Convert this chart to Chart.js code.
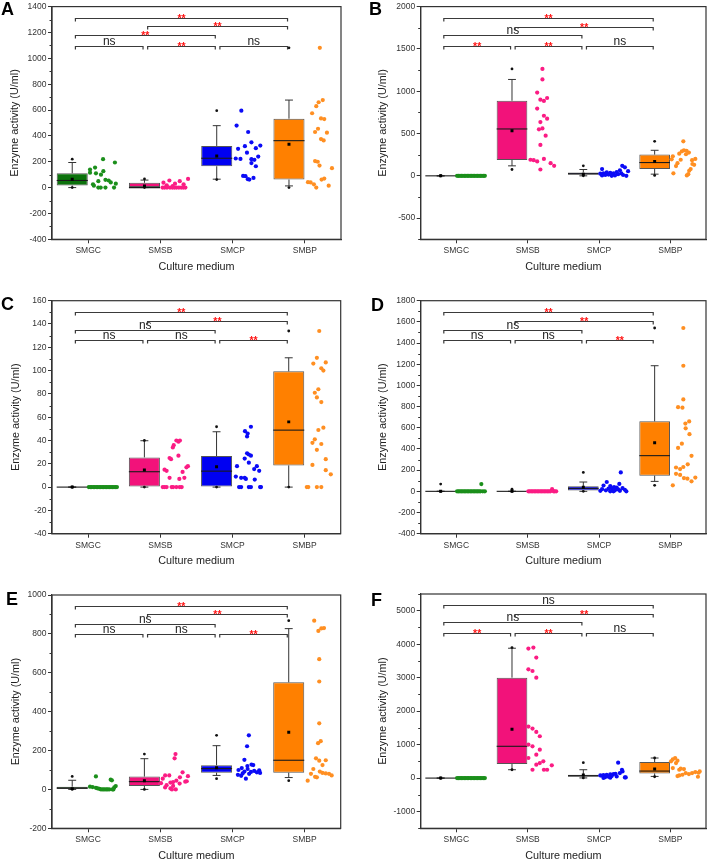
<!DOCTYPE html>
<html>
<head>
<meta charset="utf-8">
<script src="https://cdn.jsdelivr.net/npm/chart.js@4.4.1/dist/chart.umd.min.js"></script>
<style>
  html, body { margin: 0; padding: 0; background: #fff; }
  #page { position: relative; width: 710px; height: 861px; overflow: hidden; }
  canvas { position: absolute; }
  .letter { position: absolute; font: bold 18px 'Liberation Sans', Arial, sans-serif; line-height: 18px; color: #000; }
</style>
</head>
<body>
<div id="page"></div>
<script>
// ---- data ----
const categories = ['SMGC', 'SMSB', 'SMCP', 'SMBP'];

// A
const aRange = [-400, 1400];
const aTicks = [-400, -200, 0, 200, 400, 600, 800, 1000, 1200, 1400];
const aQ1 = [16, 0, 165, 62];
const aMed = [55, 0, 227, 363];
const aQ3 = [111, 37, 322, 533];
const aLo = [0, 0, 65, 13];
const aHi = [194, 58, 479, 677];
const aMean = [65, 12, 245, 335];
const aPts = [
  [220, 194, 155, 140, 127, 115, 110, 100, 60, 55, 50, 40, 30, 25, 15, 0, 0, 0, 0],
  [67, 55, 50, 38, 30, 25, 18, 12, 0, 0, 0, 0, 0, 0, 0, 0, 0, 0, 0],
  [595, 480, 430, 350, 325, 320, 305, 300, 270, 240, 225, 222, 220, 215, 190, 165, 90, 88, 75, 65, 62],
  [1081, 677, 660, 630, 575, 535, 530, 455, 430, 425, 375, 365, 205, 200, 170, 150, 70, 62, 42, 40, 25, 15, 0]
];
const aJit = [
  [.48, .88, .21, .04, .49, .04, .24, .41, .56, .67, .32, .74, .91, .14, .17, .32, .4, .56, .85],
  [.91, .28, .63, .08, .47, .76, .19, .39, .05, .12, .2, .3, .38, .45, .52, .6, .68, .75, .82],
  [.27, .11, .5, .61, .91, .39, .76, .16, .46, .84, .08, .24, .61, .71, .61, .76, .33, .41, .68, .49, .54],
  [.48, .58, .44, .36, .22, .52, .63, .42, .32, .72, .52, .61, .32, .41, .47, .89, .63, .54, .08, .17, .28, .78, .36]
];
const aBrackets = [[0, 1, 1094, 'ns'], [1, 2, 1094, '**'], [2, 3, 1094, 'ns'], [0, 2, 1179, '**'], [1, 3, 1253, '**'], [0, 3, 1312, '**']];

// B
const bRange = [-750, 2000];
const bTicks = [-500, 0, 500, 1000, 1500, 2000];
const bQ1 = [0, 188, 12, 82];
const bMed = [0, 554, 25, 157];
const bQ3 = [0, 887, 39, 251];
const bLo = [0, 118, 0, 20];
const bHi = [0, 1139, 75, 302];
const bMean = [0, 534, 20, 169];
const bPts = [
  [0, 0, 0, 0, 0, 0, 0, 0, 0, 0, 0, 0, 0, 0, 0, 0, 0, 0, 0, 0],
  [1264, 1139, 984, 920, 900, 885, 795, 710, 675, 635, 560, 550, 475, 365, 200, 190, 185, 170, 150, 118, 75],
  [118, 100, 80, 65, 55, 45, 40, 35, 30, 30, 28, 25, 20, 15, 10, 10, 5, 5, 0, 0],
  [408, 302, 295, 290, 275, 262, 255, 230, 200, 195, 190, 185, 150, 140, 130, 115, 80, 60, 30, 20, 5]
];
const bJit = [
  [0, .05, .1, .15, .2, .25, .3, .35, .4, .45, .5, .55, .6, .65, .7, .75, .8, .85, .9, .95],
  [.48, .48, .3, .64, .41, .53, .3, .53, .64, .41, .48, .36, .59, .41, .53, .07, .18, .3, .76, .88, .41],
  [.77, .86, .08, .69, .97, .58, .24, .36, .13, .47, .74, .02, .63, .3, .19, .8, .52, .08, .41, .91],
  [.42, .44, .53, .37, .61, .28, .51, .06, .83, .02, .33, .72, .22, .73, .79, .17, .67, .62, .08, .59, .54]
];
const bBrackets = [[0, 1, 1531, '**'], [1, 2, 1531, '**'], [2, 3, 1531, 'ns'], [0, 2, 1661, 'ns'], [1, 3, 1760, '**'], [0, 3, 1865, '**']];

// C
const cRange = [-40, 160];
const cTicks = [-40, -20, 0, 20, 40, 60, 80, 100, 120, 140, 160];
const cQ1 = [0, 0, 0, 18.6];
const cMed = [0, 13.2, 13.7, 48.9];
const cQ3 = [0, 25.5, 26.6, 99.4];
const cLo = [0, 0, 0, 0];
const cHi = [0, 39.8, 47.5, 111];
const cMean = [0, 14.6, 17.5, 56];
const cPts = [
  [0, 0, 0, 0, 0, 0, 0, 0, 0, 0, 0, 0, 0, 0, 0, 0, 0, 0, 0, 0],
  [40, 40, 39, 36, 34, 27, 25, 24, 18, 17, 15, 14, 13, 8, 8, 7, 0, 0, 0, 0, 0, 0, 0, 0],
  [51.8, 48, 46, 43.5, 29, 28, 27, 24.5, 21, 18, 18, 15.5, 14, 9, 8, 8, 7, 6.5, 0, 0, 0, 0, 0, 0],
  [134, 111, 106, 107, 102, 100, 84, 81, 77, 73, 51, 49, 41, 38, 37, 32, 24, 19, 14.5, 11, 0, 0, 0, 0]
];
const cJit = [
  [0, .05, .1, .15, .2, .25, .3, .35, .4, .45, .5, .55, .6, .65, .7, .75, .8, .85, .9, .95],
  [.52, .64, .59, .43, .4, .59, .29, .34, .91, .86, .12, .19, .73, .79, .29, .62, .06, .12, .19, .36, .41, .52, .63, .7],
  [.6, .4, .49, .47, .47, .53, .6, .39, .53, .13, .8, .71, .88, .09, .27, .39, .43, .73, .2, .27, .53, .6, .91, .94],
  [.47, .39, .27, .69, .54, .61, .44, .32, .39, .54, .61, .44, .32, .24, .54, .39, .69, .24, .69, .86, .05, .1, .39, .54]
];
const cBrackets = [[0, 1, 126.2, 'ns'], [1, 2, 126.2, 'ns'], [2, 3, 126.2, '**'], [0, 2, 134.8, 'ns'], [1, 3, 142.8, '**'], [0, 3, 150.5, '**']];

// D
const dRange = [-400, 1800];
const dTicks = [-400, -200, 0, 200, 400, 600, 800, 1000, 1200, 1400, 1600, 1800];
const dQ1 = [0, 0, 9, 148];
const dMed = [0, 0, 28, 337];
const dQ3 = [0, 0, 47, 661];
const dLo = [0, 0, 0, 94];
const dHi = [0, 0, 88, 1186];
const dMean = [0, 0, 38, 459];
const dPts = [
  [69, 0, 0, 0, 0, 0, 0, 0, 0, 0, 0, 0, 0, 0, 0, 0, 0, 0, 0, 0],
  [20, 0, 0, 0, 0, 0, 0, 0, 0, 0, 0, 0, 0, 0, 0, 0, 0, 0, 0, 0],
  [179, 88, 70, 55, 50, 40, 35, 30, 28, 25, 20, 18, 15, 10, 10, 5, 5, 0, 0, 0],
  [1542, 1186, 868, 795, 790, 660, 640, 595, 540, 450, 410, 335, 255, 230, 225, 210, 165, 155, 130, 125, 120, 95, 57]
];
const dJit = [
  [.83, 0, .05, .1, .15, .2, .25, .3, .35, .4, .45, .5, .55, .6, .65, .7, .75, .8, .88, .95],
  [.81, 0, .05, .1, .15, .2, .25, .3, .35, .4, .45, .5, .55, .6, .65, .7, .75, .86, .9, .95],
  [.72, .24, .67, .13, .36, .49, .58, .78, .41, .3, .08, .63, .86, .21, .52, .02, .69, .91, .36, .47],
  [.42, .42, .42, .24, .39, .62, .49, .5, .63, .37, .24, .7, .57, .42, .17, .31, .17, .31, .83, .44, .56, .7, .06]
];
const dBrackets = [[0, 1, 1429, 'ns'], [1, 2, 1429, 'ns'], [2, 3, 1429, '**'], [0, 2, 1526, 'ns'], [1, 3, 1611, '**'], [0, 3, 1696, '**']];

// E
const eRange = [-200, 1000];
const eTicks = [-200, 0, 200, 400, 600, 800, 1000];
const eQ1 = [0, 18, 86, 86];
const eMed = [7, 40, 107, 150];
const eQ3 = [14, 66, 124, 551];
const eLo = [0, 0, 72, 61];
const eHi = [47, 158, 225, 827];
const eMean = [4, 45, 112, 294];
const ePts = [
  [67, 50, 47, 17, 14, 12, 10, 8, 5, 3, 0, 0, 0, 0, 0, 0, 0, 0],
  [182, 160, 88, 72, 72, 68, 62, 55, 45, 42, 40, 38, 35, 32, 30, 22, 18, 10, 5, 0, 0],
  [278, 222, 152, 128, 125, 120, 110, 105, 100, 98, 95, 92, 90, 88, 85, 82, 80, 75, 70, 55],
  [868, 830, 828, 815, 670, 555, 340, 248, 238, 160, 150, 148, 125, 105, 92, 85, 82, 80, 80, 72, 65, 62, 45]
];
const eJit = [
  [.24, .74, .78, .91, .04, .13, .86, .24, .3, .36, .41, .47, .52, .58, .63, .69, .8, .83],
  [.49, .46, .73, .14, .28, .91, .64, .06, .52, .87, .82, .41, .32, 0, .63, .19, .41, .14, .32, .37, .5],
  [.53, .47, .38, .62, .68, .48, .29, .49, .18, .88, .71, .38, .6, .8, .91, .32, .54, .16, .27, .43],
  [.3, .63, .54, .44, .47, .47, .47, .52, .43, .36, .69, .47, .58, .27, .49, .58, .69, .8, .19, .89, .33, .39, .08]
];
const eBrackets = [[0, 1, 797, 'ns'], [1, 2, 797, 'ns'], [2, 3, 797, '**'], [0, 2, 851, 'ns'], [1, 3, 900, '**'], [0, 3, 945, '**']];

// F
const fRange = [-1500, 5500];
const fTicks = [-1000, 0, 1000, 2000, 3000, 4000, 5000];
const fQ1 = [0, 420, 40, 140];
const fMed = [0, 950, 70, 210];
const fQ3 = [0, 3000, 100, 480];
const fLo = [0, 250, 5, 50];
const fHi = [0, 3880, 250, 600];
const fMean = [0, 1460, 95, 270];
const fPts = [
  [0, 0, 0, 0, 0, 0, 0, 0, 0, 0, 0, 0, 0, 0, 0, 0, 0, 0, 0, 0],
  [3900, 3870, 3600, 3250, 3200, 3000, 1540, 1480, 1380, 1250, 1000, 950, 850, 700, 600, 500, 450, 400, 380, 250, 250, 250],
  [460, 250, 200, 150, 130, 120, 110, 100, 90, 80, 70, 60, 50, 40, 30, 20, 20, 10, 5],
  [600, 560, 520, 500, 450, 300, 280, 270, 250, 200, 180, 160, 150, 150, 120, 100, 80, 60, 40]
];
const fJit = [
  [0, .05, .1, .15, .2, .25, .3, .35, .4, .45, .5, .55, .6, .65, .7, .75, .8, .85, .9, .95],
  [.17, 0, .27, 0, .14, .27, 0, .14, .27, .39, 0, .14, .39, .27, 0, .51, .39, .27, .8, .14, .53, .64],
  [.63, .76, .78, .69, .54, .47, .36, .24, .13, .02, .08, .41, .58, .3, .19, .86, .89, .36, .13],
  [.14, .06, .22, 0, .17, .06, .33, .44, .28, .98, .83, .94, .72, .5, .61, .39, .28, .22, .92]
];
const fBrackets = [[0, 1, 4330, '**'], [1, 2, 4330, '**'], [2, 3, 4330, 'ns'], [0, 2, 4650, 'ns'], [1, 3, 4900, '**'], [0, 3, 5170, 'ns']];

// ---- styles / layout ----
const FONT = "'Liberation Sans', Arial, sans-serif";
const boxColors = ['#0c720c', '#f2127a', '#0000f2', '#ff8000'];
const dotColors = ['#1b8f1b', '#fb1c84', '#0b0bf6', '#ff8f22'];
const AXIS = '#333';

const BOX_OFF = -0.22;   // box centre relative to category
const BOX_HALF = 0.215;
const CAP_HALF = 0.055;
const PT_START = 0.01, PT_SPAN = 0.41;
const BR_L = -0.176, BR_R = -0.24;

const panels = [
  {name: 'A', range: aRange, ticks: aTicks, q1: aQ1, med: aMed, q3: aQ3, lo: aLo, hi: aHi, mean: aMean, pts: aPts, jit: aJit, brackets: aBrackets,
   box: {left: 0, top: 0, w: 355, h: 285, padL: 9.6, padT: 6, padR: 14, padB: 12.9, yW: 42.4, xH: 32.8}, letter: [1, -0.5]},
  {name: 'B', range: bRange, ticks: bTicks, q1: bQ1, med: bMed, q3: bQ3, lo: bLo, hi: bHi, mean: bMean, pts: bPts, jit: bJit, brackets: bBrackets,
   box: {left: 355, top: 0, w: 355, h: 285, padL: 22.6, padT: 6, padR: 1.2, padB: 12.9, yW: 43.1, xH: 32.8}, letter: [369, 0.3]},
  {name: 'C', range: cRange, ticks: cTicks, q1: cQ1, med: cMed, q3: cQ3, lo: cLo, hi: cHi, mean: cMean, pts: cPts, jit: cJit, brackets: cBrackets,
   box: {left: 0, top: 285, w: 355, h: 285, padL: 10.6, padT: 15.7, padR: 14.3, padB: 3.6, yW: 41.4, xH: 32.7}, letter: [1, 294.6]},
  {name: 'D', range: dRange, ticks: dTicks, q1: dQ1, med: dMed, q3: dQ3, lo: dLo, hi: dHi, mean: dMean, pts: dPts, jit: dJit, brackets: dBrackets,
   box: {left: 355, top: 285, w: 355, h: 285, padL: 22.6, padT: 15.7, padR: 1.2, padB: 3.6, yW: 43.1, xH: 32.7}, letter: [371, 295.5]},
  {name: 'E', range: eRange, ticks: eTicks, q1: eQ1, med: eMed, q3: eQ3, lo: eLo, hi: eHi, mean: eMean, pts: ePts, jit: eJit, brackets: eBrackets,
   box: {left: 0, top: 570, w: 355, h: 291, padL: 10.6, padT: 25, padR: 14.3, padB: 0, yW: 41.4, xH: 32.7}, letter: [6, 589.5]},
  {name: 'F', range: fRange, ticks: fTicks, q1: fQ1, med: fMed, q3: fQ3, lo: fLo, hi: fHi, mean: fMean, pts: fPts, jit: fJit, brackets: fBrackets,
   box: {left: 355, top: 570, w: 355, h: 291, padL: 22.6, padT: 24, padR: 1.2, padB: 0, yW: 43.1, xH: 32.7}, letter: [371, 590.5]}
];

// whiskers, medians, brackets, frame, minor ticks
function boxExtras(p) {
  return {
    id: 'boxExtras' + p.name,
    afterDatasetDraw(chart, args) {
      if (args.meta.type !== 'bar') return;
      const {x, y} = chart.scales;
      const ctx = chart.ctx;
      ctx.save();
      ctx.strokeStyle = '#333';
      ctx.lineWidth = 1;
      p.q1.forEach((q1, k) => {
        const c = k + 1 + BOX_OFF;
        const xc = x.getPixelForValue(c);
        const segs = [
          [xc, y.getPixelForValue(p.q3[k]), xc, y.getPixelForValue(p.hi[k])],
          [xc, y.getPixelForValue(q1), xc, y.getPixelForValue(p.lo[k])],
          [x.getPixelForValue(c - CAP_HALF), y.getPixelForValue(p.hi[k]), x.getPixelForValue(c + CAP_HALF), y.getPixelForValue(p.hi[k])],
          [x.getPixelForValue(c - CAP_HALF), y.getPixelForValue(p.lo[k]), x.getPixelForValue(c + CAP_HALF), y.getPixelForValue(p.lo[k])]
        ];
        segs.forEach(s => {
          ctx.beginPath(); ctx.moveTo(s[0], s[1]); ctx.lineTo(s[2], s[3]); ctx.stroke();
        });
        ctx.save();
        ctx.lineWidth = 1.1;
        ctx.strokeStyle = '#1a1a1a';
        const ym = y.getPixelForValue(p.med[k]);
        ctx.beginPath();
        ctx.moveTo(x.getPixelForValue(c - BOX_HALF), ym);
        ctx.lineTo(x.getPixelForValue(c + BOX_HALF), ym);
        ctx.stroke();
        ctx.restore();
      });
      ctx.restore();
    },
    afterDraw(chart) {
      const {x, y} = chart.scales;
      const ctx = chart.ctx;
      const a = chart.chartArea;
      ctx.save();
      // frame
      ctx.strokeStyle = AXIS;
      ctx.lineWidth = 1.2;
      ctx.strokeRect(a.left, a.top, a.right - a.left, a.bottom - a.top);
      // minor ticks on y
      ctx.lineWidth = 1;
      const t = p.ticks;
      const step = t[1] - t[0];
      const minors = [t[0] - step / 2];
      for (let i = 0; i < t.length; i++) minors.push(t[i] + step / 2);
      minors.forEach(v => {
        if (v < p.range[0] || v > p.range[1]) return;
        const py = Math.round(y.getPixelForValue(v)) + 0.5;
        ctx.beginPath(); ctx.moveTo(a.left - 2.5, py); ctx.lineTo(a.left, py); ctx.stroke();
      });
      // significance brackets
      p.brackets.forEach(([i, j, lvl, lab]) => {
        const x1 = x.getPixelForValue(i + 1 + BR_L);
        const x2 = x.getPixelForValue(j + 1 + BR_R);
        const yy = Math.round(y.getPixelForValue(lvl)) + 0.5;
        ctx.strokeStyle = '#3a3a3a';
        ctx.lineWidth = 1.2;
        ctx.beginPath();
        ctx.moveTo(x1, yy + 3); ctx.lineTo(x1, yy); ctx.lineTo(x2, yy); ctx.lineTo(x2, yy + 3);
        ctx.stroke();
        ctx.textAlign = 'center';
        ctx.textBaseline = 'alphabetic';
        if (lab === 'ns') {
          ctx.fillStyle = '#222';
          ctx.font = '12px ' + FONT;
          ctx.fillText(lab, (x1 + x2) / 2, yy - 1.5);
        } else {
          ctx.fillStyle = '#ff1414';
          ctx.font = 'bold 10.5px ' + FONT;
          ctx.fillText(lab, (x1 + x2) / 2, yy + 3);
        }
      });
      ctx.restore();
    }
  };
}

const page = document.getElementById('page');

panels.forEach(p => {
  const L = p.box;
  const cv = document.createElement('canvas');
  cv.width = L.w; cv.height = L.h;
  cv.style.left = L.left + 'px'; cv.style.top = L.top + 'px';
  cv.style.width = L.w + 'px'; cv.style.height = L.h + 'px';
  page.appendChild(cv);

  const letter = document.createElement('div');
  letter.className = 'letter';
  letter.textContent = p.name;
  letter.style.left = p.letter[0] + 'px';
  letter.style.top = p.letter[1] + 'px';
  page.appendChild(letter);

  const datasets = [];
  datasets.push({
    type: 'bar',
    data: p.q1.map((q1, k) => ({x: k + 1 + BOX_OFF, y: [q1, p.q3[k]]})),
    backgroundColor: boxColors,
    borderColor: '#555',
    borderWidth: 1,
    borderSkipped: false,
    barPercentage: 2 * BOX_HALF,
    categoryPercentage: 1,
    grouped: false,
    order: 10
  });
  p.pts.forEach((vals, k) => {
    datasets.push({
      type: 'scatter',
      data: vals.map((v, n) => ({x: k + 1 + PT_START + p.jit[k][n] * PT_SPAN, y: v})),
      backgroundColor: dotColors[k],
      borderWidth: 0,
      pointRadius: 2.1,
      order: 5
    });
  });
  datasets.push({
    type: 'scatter',
    data: p.pts.flatMap((vals, k) => [
      {x: k + 1 + BOX_OFF, y: Math.min(...vals)},
      {x: k + 1 + BOX_OFF, y: Math.max(...vals)}
    ]),
    backgroundColor: '#111',
    borderWidth: 0,
    pointRadius: 1.4,
    order: 2
  });
  datasets.push({
    type: 'scatter',
    data: p.mean.map((m, k) => ({x: k + 1 + BOX_OFF, y: m})),
    backgroundColor: '#000',
    borderWidth: 0,
    pointStyle: 'rect',
    pointRadius: 2.1,
    order: 1
  });

  new Chart(cv, {
    type: 'scatter',
    data: {datasets},
    options: {
      responsive: false,
      animation: false,
      devicePixelRatio: 1,
      layout: {padding: {left: L.padL, top: L.padT, right: L.padR, bottom: L.padB}},
      plugins: {legend: {display: false}, tooltip: {enabled: false}},
      scales: {
        x: {
          type: 'linear', min: 0.5, max: 4.5, offset: false,
          afterBuildTicks: s => { s.ticks = categories.map((c, k) => ({value: k + 1})); },
          afterFit: s => { s.height = L.xH; },
          ticks: {
            callback: (v, i) => categories[i],
            font: {size: 8.5, family: FONT}, color: AXIS, padding: 2.6,
            maxRotation: 0, autoSkip: false
          },
          grid: {display: true, drawOnChartArea: false, drawTicks: true, tickLength: 4, color: AXIS, offset: false},
          border: {display: true, color: AXIS, width: 1.2},
          title: {display: true, text: 'Culture medium', color: '#222', padding: 0,
                  font: {size: 10.8, family: FONT, lineHeight: 1}}
        },
        y: {
          type: 'linear', min: p.range[0], max: p.range[1],
          afterBuildTicks: s => { s.ticks = p.ticks.map(v => ({value: v})); },
          afterFit: s => { s.width = L.yW; },
          ticks: {callback: v => String(v), font: {size: 8.5, family: FONT}, color: AXIS, padding: 1.5},
          grid: {display: true, drawOnChartArea: false, drawTicks: true, tickLength: 4, color: AXIS},
          border: {display: true, color: AXIS, width: 1.2},
          title: {display: true, text: 'Enzyme activity (U/ml)', color: '#222', padding: 0,
                  font: {size: 10.8, family: FONT, lineHeight: 1}}
        }
      }
    },
    plugins: [boxExtras(p)]
  });
});
</script>
</body>
</html>
